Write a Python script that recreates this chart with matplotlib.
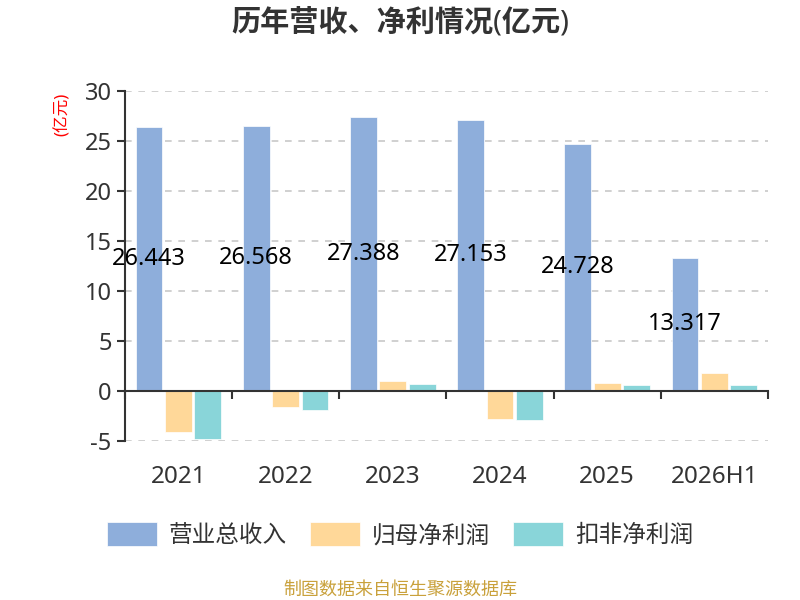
import numpy as np
import matplotlib
matplotlib.use('Agg')
import matplotlib.pyplot as plt
from matplotlib.patches import FancyBboxPatch
from matplotlib.legend_handler import HandlerPatch

plt.rcParams['font.family'] = ['Noto Sans', 'Noto Sans CJK SC', 'DejaVu Sans']
plt.rcParams['axes.unicode_minus'] = False

years = ['2021', '2022', '2023', '2024', '2025', '2026H1']
revenue = [26.443, 26.568, 27.388, 27.153, 24.728, 13.317]
net_profit = [-4.1, -1.63, 1.04, -2.8, 0.77, 1.8]
deducted_profit = [-4.8, -1.93, 0.67, -2.85, 0.63, 0.57]
series_names = ['营业总收入', '归母净利润', '扣非净利润']
colors = ['#8EAEDB', '#FFD899', '#89D5D9']


class RoundedHandler(HandlerPatch):
    def create_artists(self, legend, orig_handle, xdescent, ydescent, width, height, fontsize, trans):
        p = FancyBboxPatch((-xdescent, -ydescent), width, height,
                           boxstyle='round,pad=0,rounding_size=5',
                           facecolor=orig_handle.get_facecolor(), edgecolor='none', transform=trans)
        return [p]


fig = plt.figure(figsize=(8, 6), dpi=100)
ax = fig.add_axes([0.156, 0.265, 0.804, 0.583])

x = np.arange(len(years))
w = 0.25
off = 0.275
bars = []
for i, (vals, c, name) in enumerate(zip([revenue, net_profit, deducted_profit], colors, series_names)):
    b = ax.bar(x + (i - 1) * off, vals, w, color=c, label=name, edgecolor='white', linewidth=0.5)
    bars.append(b)

for xi, v in zip(x, revenue):
    ax.text(xi - off, v / 2, f'{v:.3f}', ha='center', va='center', fontsize=17, color='black')

ax.set_xlim(-0.5, len(years) - 0.5)
ax.set_ylim(-5, 30)
ax.set_yticks(range(-5, 31, 5))
ax.tick_params(axis='y', labelsize=17, colors='#333333', length=6, width=1.5, direction='out')
for yv in range(-5, 31, 5):
    if yv != 0:
        ax.axhline(yv, color='#c8c8c8', linestyle=(0, (4, 4)), linewidth=1.2, zorder=0)

for s in ['top', 'right']:
    ax.spines[s].set_visible(False)
ax.spines['left'].set_color('#333333')
ax.spines['left'].set_linewidth(1.5)
ax.spines['bottom'].set_position(('data', 0))
ax.spines['bottom'].set_color('#333333')
ax.spines['bottom'].set_linewidth(1.5)

ax.set_xticks(np.arange(-0.5, len(years), 1))
ax.set_xticklabels([])
ax.tick_params(axis='x', which='major', length=6, width=1.5, color='#333333', direction='out')
ax.set_xticks(x, minor=True)
ax.set_xticklabels(years, minor=True)
ax.tick_params(axis='x', which='minor', length=0, labelsize=17.5, labelcolor='#333333', pad=53)

fig.text(0.078, 0.81, '(亿元)', color='red', rotation=90, fontsize=12, ha='center', va='center')
fig.text(0.5, 0.962, '历年营收、净利情况(亿元)', fontsize=21, fontweight='bold', color='#333333',
         ha='center', va='center')

fig.legend(handles=bars, labels=series_names, loc='center', bbox_to_anchor=(0.5, 0.108), ncol=3,
           frameon=False, fontsize=17, handlelength=2.1, handleheight=1.2, columnspacing=1.0,
           handletextpad=0.5, labelcolor='#333333',
           handler_map={type(bars[0].patches[0]): RoundedHandler()})

fig.text(0.5, 0.018, '制图数据来自恒生聚源数据库', fontsize=13, color='#C9A13B', ha='center', va='center')

fig.savefig('out.png', dpi=100)
